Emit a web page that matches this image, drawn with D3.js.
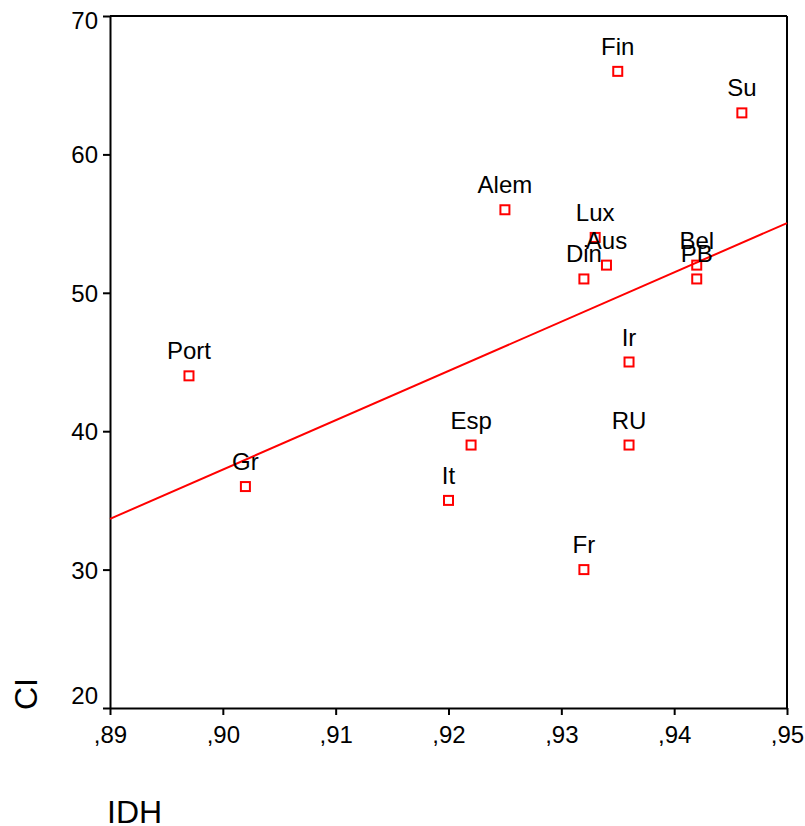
<!DOCTYPE html>
<html>
<head>
<meta charset="utf-8">
<script src="https://cdn.jsdelivr.net/npm/d3@7"></script>
<style>
  html, body { margin: 0; padding: 0; background: #fff; }
  svg { display: block; }
  text { font-family: "Liberation Sans", Arial, sans-serif; fill: #000; }
</style>
</head>
<body>
<script>
// ---- data ----
const countries = ["Fin","Su","Alem","Lux","Aus","Din","Bel","PB","Port","Gr","It","Esp","Fr","Ir","RU"];
const idh = [0.935,0.946,0.925,0.933,0.934,0.932,0.942,0.942,0.897,0.902,0.920,0.922,0.932,0.936,0.936];
const ci  = [66,63,56,54,52,51,52,51,44,36,35,39,30,45,39];
const xTicks = [0.89,0.90,0.91,0.92,0.93,0.94,0.95];
const yTicks = [20,30,40,50,60,70];
const xTitle = "IDH";
const yTitle = "CI";

// ---- layout ----
const W = 805, H = 826;
const m = {left:110, right:18, top:16, bottom:118};
const svg = d3.select("body").append("svg").attr("width", W).attr("height", H);

const x = d3.scaleLinear().domain([0.89, 0.95]).range([m.left, W - m.right]);
const y = d3.scaleLinear().domain([20, 70]).range([H - m.bottom, m.top]);

const fmtX = d => d3.format(".2f")(d).replace(/^0\./, ",");

// regression line (least squares)
const n = idh.length;
const mx = d3.mean(idh), my = d3.mean(ci);
let sxy = 0, sxx = 0;
for (let i = 0; i < n; i++) { sxy += (idh[i]-mx)*(ci[i]-my); sxx += (idh[i]-mx)**2; }
const slope = sxy / sxx, intercept = my - slope * mx;
const [x0, x1] = x.domain();

// frame (top + right)
svg.append("line").attr("x1", x(x0)).attr("x2", x(x1)).attr("y1", y(70)).attr("y2", y(70))
  .attr("stroke", "#000").attr("stroke-width", 2);
svg.append("line").attr("x1", x(x1)).attr("x2", x(x1)).attr("y1", y(70)).attr("y2", y(20))
  .attr("stroke", "#000").attr("stroke-width", 2);

// axes
const xAxis = svg.append("g").attr("transform", `translate(0,${y(20)})`)
  .call(d3.axisBottom(x).tickValues(xTicks).tickFormat(fmtX).tickSize(7).tickSizeOuter(0));
const yAxis = svg.append("g").attr("transform", `translate(${x(0.89)},0)`)
  .call(d3.axisLeft(y).tickValues(yTicks).tickSize(7).tickSizeOuter(0));

[xAxis, yAxis].forEach(g => {
  g.select(".domain").attr("stroke", "#000").attr("stroke-width", 2);
  g.selectAll(".tick line").attr("stroke", "#000").attr("stroke-width", 2);
  g.selectAll(".tick text").attr("font-family", "Liberation Sans, Arial, sans-serif")
    .attr("font-size", 24).attr("fill", "#000");
});
xAxis.selectAll(".tick text").attr("y", 35).attr("dy", 0);
yAxis.selectAll(".tick text").attr("x", -12).attr("dy", 0)
  .attr("y", d => d === 20 ? -5 : (d === 70 ? 12 : 8.5));

// regression line
svg.append("line")
  .attr("x1", x(x0)).attr("y1", y(intercept + slope * x0))
  .attr("x2", x(x1)).attr("y2", y(intercept + slope * x1))
  .attr("stroke", "#ff0000").attr("stroke-width", 2);

// points
const pts = countries.map((c, i) => ({c, x: idh[i], y: ci[i]}));
svg.append("g").selectAll("rect").data(pts).join("rect")
  .attr("x", d => x(d.x) - 4.5).attr("y", d => y(d.y) - 4.5)
  .attr("width", 9).attr("height", 9)
  .attr("fill", "none").attr("stroke", "#ff0000").attr("stroke-width", 2);

svg.append("g").selectAll("text").data(pts).join("text")
  .attr("x", d => x(d.x)).attr("y", d => y(d.y) - 16.5)
  .attr("text-anchor", "middle").attr("font-size", 24)
  .text(d => d.c);

// titles
svg.append("text").attr("x", 107).attr("y", 823).attr("font-size", 32).text(xTitle);
svg.append("text").attr("transform", "translate(37,710) rotate(-90)")
  .attr("font-size", 32).text(yTitle);
</script>
</body>
</html>
